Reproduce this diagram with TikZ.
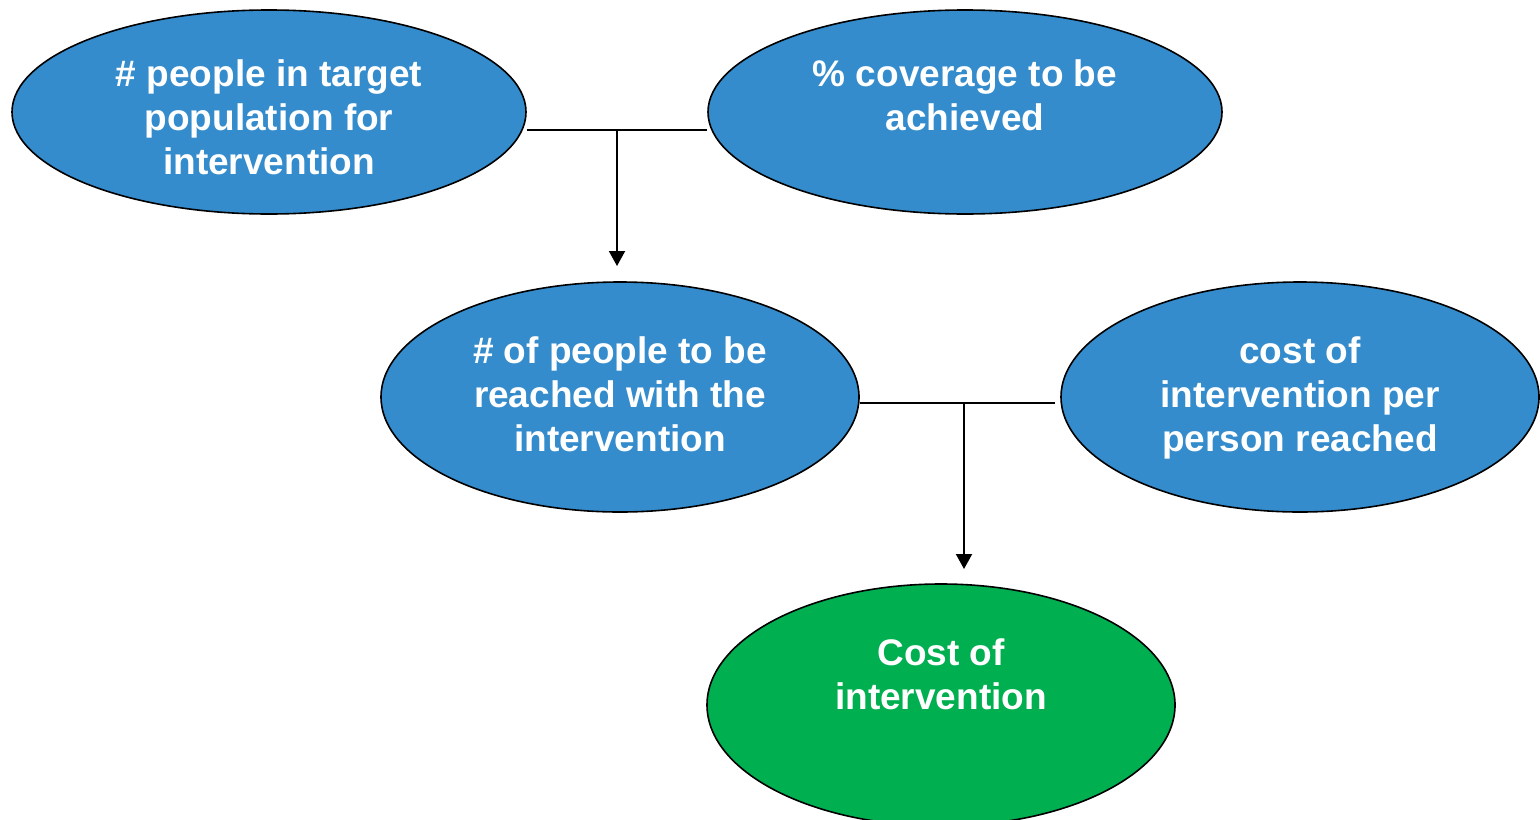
\documentclass[tikz,border=0pt]{standalone}
\usepackage{fontspec}
\setmainfont{Liberation Sans}
\usetikzlibrary{arrows.meta,shapes.geometric}

\definecolor{ovalblue}{RGB}{52,140,204}
\definecolor{ovalgreen}{RGB}{0,176,80}

\begin{document}
\begin{tikzpicture}
	[
		x = .5pt, y = -.5pt,
		oval/.style = {shape=ellipse, draw=black, line width=.8pt, inner sep=0pt, fill=ovalblue},
		wideoval/.style = {oval, minimum width=257pt, minimum height=102pt},
		midoval/.style = {oval, minimum width=239pt, minimum height=115pt},
		txt/.style = {text=white, align=center, font=\fontsize{18.5}{22}\selectfont\bfseries, inner sep=0pt},
		link/.style = {draw=black, line width=1pt},
		tip/.style = {link, -{Triangle[width=8pt, length=7.5pt]}}
	]
	
	\useasboundingbox (0, 0) rectangle (1540, 819);
	
	% top row
	\node [wideoval] (pop) at (269, 112) {};
	\node [txt] (popt) at (269, 117) {\# people in target\\population for\\intervention};
	
	\node [wideoval] (cov) at (965, 112) {};
	\node [txt] (covt) at (965, 95) {\% coverage to be\\achieved};
	
	% middle row
	\node [midoval] (reach) at (620, 397) {};
	\node [txt] (reacht) at (620, 394) {\# of people to be\\reached with the\\intervention};
	
	\node [midoval] (unit) at (1300, 397) {};
	\node [txt] (unitt) at (1300, 398) {cost of\\intervention per\\person reached};
	
	% bottom
	\node [oval, fill=ovalgreen, minimum width=234pt, minimum height=121pt] (total) at (941, 705) {};
	\node [txt] (totalt) at (941, 674) {Cost of\\intervention};
	
	\coordinate (j1) at (617, 130);
	\coordinate (e1) at (617, 266);
	\coordinate (j2) at (964, 403);
	\coordinate (e2) at (964, 569);
	
	\draw [link] (pop.east |- j1) -- (cov.west |- j1);
	\draw [tip] (j1) -- (e1);
	
	\draw [link] (reach.east |- j2) -- ([xshift=-2.5pt] unit.west |- j2);
	\draw [tip] (j2) -- (e2);
\end{tikzpicture}
\end{document}
